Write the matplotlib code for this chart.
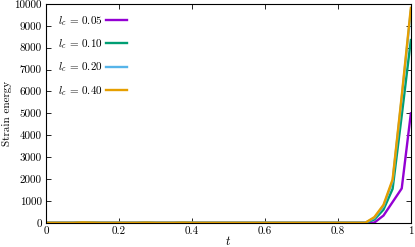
import numpy as np
import matplotlib
matplotlib.use("Agg")
import matplotlib.pyplot as plt

plt.rcParams['font.family'] = ['cmr10', 'DejaVu Serif']
plt.rcParams['mathtext.fontset'] = 'cm'
plt.rcParams['axes.formatter.use_mathtext'] = True

# time grid (step 0.025)
t = [0.0, 0.025, 0.05, 0.075, 0.1, 0.125, 0.15, 0.175, 0.2, 0.225,
     0.25, 0.275, 0.3, 0.325, 0.35, 0.375, 0.4, 0.425, 0.45, 0.475,
     0.5, 0.525, 0.55, 0.575, 0.6, 0.625, 0.65, 0.675, 0.7, 0.725,
     0.75, 0.775, 0.8, 0.825, 0.85, 0.875, 0.9, 0.925, 0.95, 0.975, 1.0]

base = [0, 0, 0, 0, 20, 10, 0, 0, 0, 0,
        0, 10, 0, 0, 0, 10, 0, 0, 0, 0,
        0, 0, 0, 0, 0, 0, 0, 0, 0, 0,
        0, 0, 0, 0, 0]

e_005 = base + [0, 10, 330, 950, 1570, 5000]
e_010 = base + [0, 150, 600, 1550, 4900, 8350]
e_020 = base + [0, 220, 760, 1900, 5700, 9700]
e_040 = base + [0, 260, 820, 1980, 5800, 9820]

labels = [r'$l_c$ = 0.05', r'$l_c$ = 0.10', r'$l_c$ = 0.20', r'$l_c$ = 0.40']
colors = ['#9400d3', '#009e73', '#56b4e9', '#e69f00']

fig = plt.figure(figsize=(4.15, 2.47), dpi=100)
ax = fig.add_axes([0.111, 0.098, 0.879, 0.886])

for y, lab, c in zip([e_005, e_010, e_020, e_040], labels, colors):
    ax.plot(t, y, color=c, lw=1.7, label=lab)

ax.set_xlim(0, 1)
ax.set_ylim(0, 10000)
ax.set_xticks([0, 0.2, 0.4, 0.6, 0.8, 1])
ax.set_xticklabels(['0', '0.2', '0.4', '0.6', '0.8', '1'])
ax.set_yticks(np.arange(0, 10001, 1000))
ax.set_yticklabels([str(v) for v in range(0, 10001, 1000)])
ax.tick_params(direction='in', top=True, right=True, length=3.5, width=0.6,
               labelsize=8, pad=3)
for s in ax.spines.values():
    s.set_linewidth(0.8)

ax.set_xlabel(r'$t$', fontsize=9, labelpad=-1)
ax.set_ylabel('Strain energy', fontsize=8)
ax.yaxis.set_label_coords(-0.093, 0.5)

ax.legend(loc='upper left', frameon=False, markerfirst=False, fontsize=8,
          handlelength=1.9, labelspacing=0.85, borderaxespad=0.0,
          handletextpad=0.35, bbox_to_anchor=(0.02, 0.975))

fig.savefig('out.png', dpi=100)
